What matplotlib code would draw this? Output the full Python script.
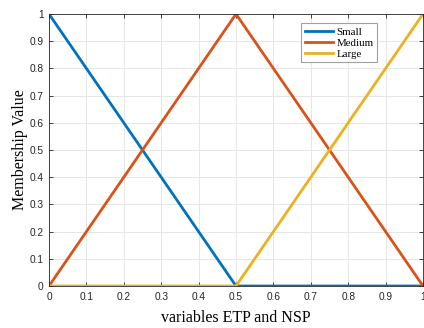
import numpy as np
import matplotlib
matplotlib.use('Agg')
import matplotlib.pyplot as plt

x = [0, 0.5, 1]
small = [1, 0, 0]
medium = [0, 1, 0]
large = [0, 0, 1]
labels = ['Small', 'Medium', 'Large']
colors = ['#0072BD', '#D95319', '#EDB120']

fig = plt.figure(figsize=(4.24, 3.28), dpi=100)
ax = fig.add_axes([49/424, 42/328, 374/424, 272/328])

for y, lab, c in zip([small, medium, large], labels, colors):
    ax.plot(x, y, color=c, lw=2, label=lab)

ax.set_xlim(0, 1)
ax.set_ylim(0, 1)
ax.set_xticks(np.round(np.arange(0, 1.01, 0.1), 1))
ax.set_yticks(np.round(np.arange(0, 1.01, 0.1), 1))
ax.set_xticklabels(['0'] + [f'{v:.1f}' for v in np.arange(0.1, 0.95, 0.1)] + ['1'])
ax.set_yticklabels(['0'] + [f'{v:.1f}' for v in np.arange(0.1, 0.95, 0.1)] + ['1'])
ax.tick_params(direction='in', top=True, right=True, length=3, width=0.6,
               labelsize=7.3, colors='#262626', pad=4)
for lab in ax.get_xticklabels() + ax.get_yticklabels():
    lab.set_fontfamily('Liberation Sans')
ax.grid(True, color='#e6e6e6', lw=0.7)
ax.set_axisbelow(True)
for s in ax.spines.values():
    s.set_color('#262626')
    s.set_linewidth(0.6)

ax.set_xlabel('variables ETP and NSP', family='Liberation Serif', fontsize=11.5, labelpad=6)
ax.set_ylabel('Membership Value', family='Liberation Serif', fontsize=11.5, labelpad=1)

leg = ax.legend(loc='upper left', bbox_to_anchor=(0.66, 0.985), fancybox=False,
                prop={'family': 'Liberation Serif', 'size': 7.8}, handlelength=2.6,
                borderpad=0.35, labelspacing=0.12, handletextpad=0.3, framealpha=1)
leg.get_frame().set_edgecolor('#a0a0a0')
leg.get_frame().set_linewidth(0.8)

fig.savefig('out.png', dpi=100)
